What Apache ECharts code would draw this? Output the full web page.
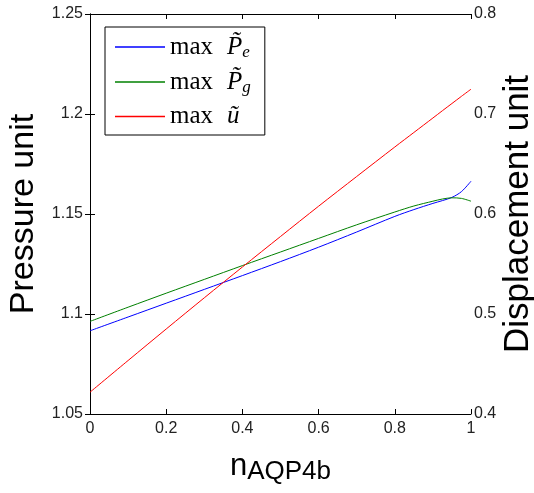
<!DOCTYPE html>
<html>
<head>
<meta charset="utf-8">
<script src="https://cdn.jsdelivr.net/npm/echarts@6/dist/echarts.min.js"></script>
<style>html,body{margin:0;padding:0;background:#fff;}#c{width:534px;height:493px;}</style>
</head>
<body>
<div id="c"></div>
<script>
// x positions (n_AQP4b)
var xVals = [0, 0.1, 0.2, 0.3, 0.4, 0.5, 0.6, 0.7, 0.8, 0.85, 0.9, 0.925, 0.95, 0.975, 1];
// max P~_e (left axis, pressure unit)
var pe = [1.0916, 1.0985, 1.1054, 1.1123, 1.1192, 1.1262, 1.1334, 1.1410, 1.1488, 1.1522, 1.1553, 1.1567, 1.1583, 1.1612, 1.1664];
// max P~_g (left axis, pressure unit)
var pg = [1.0963, 1.1034, 1.1104, 1.1173, 1.1242, 1.1310, 1.1378, 1.1446, 1.1510, 1.1540, 1.1564, 1.1575, 1.1581, 1.1578, 1.1564];
// max u~ (right axis, displacement unit)
var uu = [0.4218, 0.4535, 0.4850, 0.5162, 0.5470, 0.5775, 0.6078, 0.6375, 0.6670, 0.6815, 0.6960, 0.7033, 0.7105, 0.7177, 0.7248];
var xTicks = [0, 0.2, 0.4, 0.6, 0.8, 1];
var leftTicks = [1.05, 1.1, 1.15, 1.2, 1.25];
var rightTicks = [0.4, 0.5, 0.6, 0.7, 0.8];
var seriesNames = ['Pe', 'Pg', 'u'];

function pairs(ys) { return xVals.map(function (x, i) { return [x, ys[i]]; }); }
function fmtNum(v) { return String(+v.toFixed(2)); }

var tickFont = { fontFamily: 'Liberation Sans, Arial, sans-serif', fontSize: 16, color: '#222' };
var chart = echarts.init(document.getElementById('c'), null, { renderer: 'canvas' });
chart.setOption({
  animation: false,
  backgroundColor: '#fff',
  grid: { left: 90, right: 63, top: 14, bottom: 79, containLabel: false, outerBoundsMode: 'none' },
  legend: {
    orient: 'vertical', left: 105, top: 27,
    padding: [7, 14, 6, 10],
    icon: 'rect',
    itemWidth: 50, itemHeight: 1.5, itemGap: 8,
    borderColor: '#000', borderWidth: 1, backgroundColor: '#fff',
    data: seriesNames,
    formatter: function (name) {
      if (name === 'u') return '{m|max}{v|u\u0303}';
      return '{m|max}{v|P\u0303}{s|' + (name === 'Pe' ? 'e' : 'g') + '}';
    },
    textStyle: {
      rich: {
        m: { fontFamily: 'Liberation Serif, serif', fontSize: 25, color: '#000', lineHeight: 28 },
        v: { fontFamily: 'Liberation Serif, serif', fontStyle: 'italic', fontSize: 25, color: '#000', lineHeight: 28, padding: [0, 0, 0, 14] },
        s: { fontFamily: 'Liberation Serif, serif', fontStyle: 'italic', fontSize: 17, color: '#000', lineHeight: 28, verticalAlign: 'bottom', padding: [10, 0, 0, 0] }
      }
    }
  },
  xAxis: [{
    type: 'value', min: 0, max: 1, interval: 0.2, position: 'bottom',
    axisLine: { show: true, lineStyle: { color: '#000', width: 1 } },
    axisTick: { show: true, inside: true, length: 5, lineStyle: { color: '#000' } },
    axisLabel: Object.assign({ margin: 7, formatter: fmtNum }, tickFont),
    splitLine: { show: false },
    name: '{n|n}{s|AQP4b}', nameLocation: 'middle', nameGap: 37, nameMoveOverlap: false,
    nameTextStyle: {
      rich: {
        n: { fontFamily: 'Liberation Sans, Arial, sans-serif', fontSize: 31, color: '#000', lineHeight: 34, verticalAlign: 'top' },
        s: { fontFamily: 'Liberation Sans, Arial, sans-serif', fontSize: 26, color: '#000', lineHeight: 34, verticalAlign: 'bottom', padding: [22, 0, 0, 0] }
      }
    }
  }, {
    type: 'value', min: 0, max: 1, interval: 0.2, position: 'top',
    axisLine: { show: true, lineStyle: { color: '#000', width: 1 } },
    axisTick: { show: true, inside: true, length: 5, lineStyle: { color: '#000' } },
    axisLabel: { show: false },
    splitLine: { show: false }
  }],
  yAxis: [{
    type: 'value', min: 1.05, max: 1.25, interval: 0.05, position: 'left',
    axisLine: { show: true, lineStyle: { color: '#000', width: 1 } },
    axisTick: { show: true, inside: true, length: 5, lineStyle: { color: '#000' } },
    axisLabel: Object.assign({ margin: 7, formatter: fmtNum }, tickFont),
    splitLine: { show: false },
    name: 'Pressure unit', nameLocation: 'middle', nameGap: 49, nameRotate: 90, nameMoveOverlap: false,
    nameTextStyle: { fontFamily: 'Liberation Sans, Arial, sans-serif', fontSize: 34, color: '#000' }
  }, {
    type: 'value', min: 0.4, max: 0.8, interval: 0.1, position: 'right',
    axisLine: { show: true, lineStyle: { color: '#000', width: 1 } },
    axisTick: { show: true, inside: true, length: 5, lineStyle: { color: '#000' } },
    axisLabel: Object.assign({ margin: 3, formatter: function (v) { return String(+v.toFixed(1)); } }, tickFont),
    splitLine: { show: false },
    name: 'Displacement unit', nameLocation: 'middle', nameGap: 30, nameRotate: 90, nameMoveOverlap: false,
    nameTextStyle: { fontFamily: 'Liberation Sans, Arial, sans-serif', fontSize: 35, color: '#000' }
  }],
  series: [
    { name: 'Pe', type: 'line', xAxisIndex: 0, yAxisIndex: 0, data: pairs(pe), showSymbol: false, symbol: 'none', smooth: 0.3, lineStyle: { color: '#0000ff', width: 1 }, itemStyle: { color: '#0000ff' } },
    { name: 'Pg', type: 'line', xAxisIndex: 0, yAxisIndex: 0, data: pairs(pg), showSymbol: false, symbol: 'none', smooth: 0.3, lineStyle: { color: '#008000', width: 1 }, itemStyle: { color: '#008000' } },
    { name: 'u', type: 'line', xAxisIndex: 0, yAxisIndex: 1, data: pairs(uu), showSymbol: false, symbol: 'none', smooth: 0.3, lineStyle: { color: '#ff0000', width: 1 }, itemStyle: { color: '#ff0000' } }
  ]
});
</script>
</body>
</html>
